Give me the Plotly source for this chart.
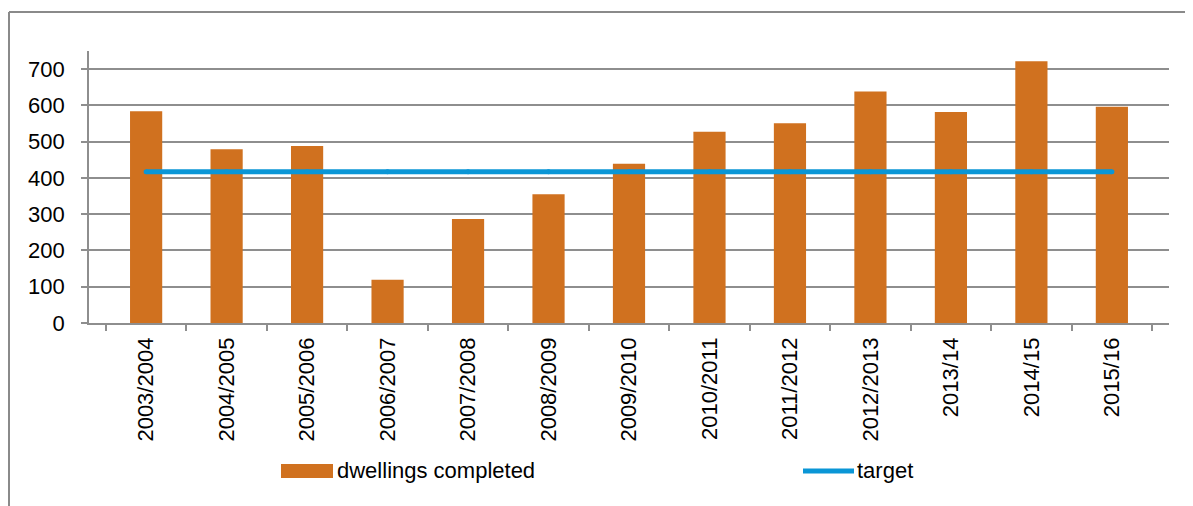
import plotly.graph_objects as go

categories = ["2003/2004", "2004/2005", "2005/2006", "2006/2007", "2007/2008",
              "2008/2009", "2009/2010", "2010/2011", "2011/2012", "2012/2013",
              "2013/14", "2014/15", "2015/16"]
dwellings_completed = [584, 479, 488, 119, 287, 355, 439, 527, 551, 638, 582, 722, 596]
target = [417] * len(categories)

BAR_COLOR = "#D0711F"
LINE_COLOR = "#0A96D6"
GRID = "#8E8E8E"
FONT = "Liberation Sans, Arial, sans-serif"
FS = 22

OFF = 8  # page body margin
W, H = 1193 - OFF, 506 - OFF
L, R, T, B = 89 - OFF, 24, 51 - OFF, 183
PW, PH = W - L - R, H - T - B


def px(x):
    return (x - OFF - L) / PW


def py(y):
    return (H - B - (y - OFF)) / PH


fig = go.Figure()
fig.add_trace(go.Bar(x=categories, y=dwellings_completed, name="dwellings completed",
                     marker=dict(color=BAR_COLOR, line=dict(width=0)), showlegend=False))
fig.add_trace(go.Scatter(x=categories, y=target, name="target", mode="lines+markers",
                         line=dict(color=LINE_COLOR, width=5),
                         marker=dict(color=LINE_COLOR, size=5), showlegend=False))

shapes = [
    # outer border
    dict(type="line", xref="paper", yref="paper", x0=px(9), x1=px(1188), y0=py(12), y1=py(12),
         line=dict(color="#8A8A8A", width=2)),
    dict(type="line", xref="paper", yref="paper", x0=px(9), x1=px(9), y0=py(12), y1=py(520),
         line=dict(color="#8A8A8A", width=2)),
    dict(type="line", xref="paper", yref="paper", x0=px(1188), x1=px(1188), y0=py(12), y1=py(520),
         line=dict(color="#8A8A8A", width=2)),
    # legend swatches
    dict(type="rect", xref="paper", yref="paper", x0=px(281), x1=px(333), y0=py(478), y1=py(464),
         fillcolor=BAR_COLOR, line=dict(width=0)),
    dict(type="line", xref="paper", yref="paper", x0=px(803), x1=px(854), y0=py(471), y1=py(471),
         line=dict(color=LINE_COLOR, width=5)),
]

annotations = [
    dict(text="dwellings completed", xref="paper", yref="paper", x=px(335), y=py(471),
         xanchor="left", yanchor="middle", showarrow=False,
         font=dict(family=FONT, size=FS, color="#000000")),
    dict(text="target", xref="paper", yref="paper", x=px(855), y=py(471),
         xanchor="left", yanchor="middle", showarrow=False,
         font=dict(family=FONT, size=FS, color="#000000")),
]

fig.update_layout(
    width=W, height=H,
    margin=dict(l=L, r=R, t=T, b=B, pad=0),
    paper_bgcolor="white", plot_bgcolor="white",
    bargap=0.6,
    font=dict(family=FONT, size=FS, color="#000000"),
    shapes=shapes,
    annotations=annotations,
    showlegend=False,
)
fig.update_xaxes(
    type="category", automargin=False, showgrid=False, showline=True, linecolor=GRID, linewidth=1.6,
    ticks="outside", tickson="boundaries", ticklen=6, tickcolor=GRID, tickwidth=1.6,
    tickangle=-90, ticklabelstandoff=4, tickfont=dict(family=FONT, size=FS),
)
fig.update_yaxes(
    automargin=False, range=[0, 750], dtick=100, tick0=0, showgrid=True, gridcolor=GRID, gridwidth=1.6,
    showline=True, linecolor=GRID, linewidth=1.6, zeroline=False,
    ticks="outside", ticklen=6, tickcolor=GRID, tickwidth=1.6,
    ticklabelstandoff=12, tickfont=dict(family=FONT, size=FS),
)

fig.write_html("out.html")
